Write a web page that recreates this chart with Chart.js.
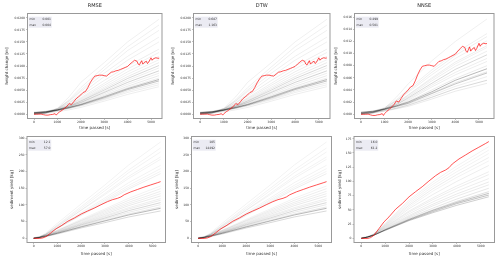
<!DOCTYPE html>
<html lang="en">
<head>
<meta charset="UTF-8">
<title>Calibration runs – height change and sediment yield</title>
<script src="https://cdn.jsdelivr.net/npm/chart.js"></script>
<style>
  body { margin: 0; background: #fff; }
  #fig { position: relative; width: 500px; height: 261px; overflow: hidden; }
  #fig canvas { position: absolute; }
</style>
</head>
<body>
<div id="fig"></div>
<script>
// observed run (red)
const obsHeightTime = [0, 100, 200, 300, 400, 500, 600, 700, 800, 900, 950, 1000, 1100, 1200, 1300, 1400, 1500, 1600, 1700, 1800, 1900, 2000,
  2100, 2200, 2300, 2400, 2500, 2600, 2700, 2800, 2900, 3000, 3100, 3200, 3300, 3400, 3500, 3600, 3700, 3800, 3900, 4000,
  4100, 4200, 4300, 4400, 4450, 4500, 4600, 4650, 4700, 4800, 4850, 4900, 5000, 5050, 5100, 5200, 5300, 5340];
const obsHeight = [0, 0, 0, 0.00002, -0.0001, -0.0002, -0.0002, -0.0001, -0.00005, 0.0001, -0.0002, 0.0001, 0.0005, 0.0008, 0.0012, 0.0016, 0.0022, 0.0020, 0.0026, 0.0032, 0.0036, 0.0040,
  0.0045, 0.0047, 0.0055, 0.0065, 0.0073, 0.0079, 0.0080, 0.0081, 0.0081, 0.0080, 0.0079, 0.0083, 0.0087, 0.0088, 0.0090, 0.0091, 0.0093, 0.0095, 0.0097, 0.0099,
  0.0104, 0.0108, 0.0112, 0.0110, 0.0104, 0.0102, 0.0111, 0.0104, 0.0107, 0.0110, 0.0105, 0.0108, 0.0117, 0.0112, 0.0115, 0.0117, 0.0116, 0.0117];
const obsYieldTime = [0, 250, 390, 530, 740, 950, 1160, 1440, 1720, 2000, 2270, 2550, 2830, 3110, 3320, 3530, 3670, 3810, 4090, 4370, 4640, 4920, 5200, 5340];
const obsYield = [0, -0.5, 1.2, 5.3, 17, 28.8, 37.6, 51.2, 61.2, 72.9, 81.8, 90.6, 100.6, 110, 115.9, 120, 124, 130.6, 139.4, 146.5, 153.5, 160, 166.5, 170];

// simulated runs (grey)
const runHeightTime = [0, 500, 1000, 1500, 2000, 3000, 4000, 5340];
const rmseHeightRuns = [
  [0, 0.0002, 0.0012, 0.0036, 0.0066, 0.0107, 0.0150, 0.0197],
  [0.0001, 0.0003, 0.0011, 0.0030, 0.0055, 0.0098, 0.0140, 0.0185],
  [0, 0.0002, 0.0010, 0.0028, 0.0050, 0.0092, 0.0132, 0.0174],
  [0.0002, 0.0004, 0.0012, 0.0027, 0.0047, 0.0085, 0.0120, 0.0160],
  [0, 0.0003, 0.0010, 0.0024, 0.0042, 0.0078, 0.0112, 0.0150],
  [0.0003, 0.0005, 0.0011, 0.0023, 0.0038, 0.0070, 0.0100, 0.0135],
  [0, 0.0002, 0.0009, 0.0020, 0.0034, 0.0064, 0.0094, 0.0128],
  [0.0001, 0.0003, 0.0009, 0.0019, 0.0032, 0.0060, 0.0088, 0.0120],
  [0.0004, 0.0006, 0.0011, 0.0019, 0.0030, 0.0056, 0.0083, 0.0113],
  [0, 0.0003, 0.0008, 0.0017, 0.0028, 0.0053, 0.0078, 0.0107],
  [0.0002, 0.0004, 0.0009, 0.0017, 0.0027, 0.0050, 0.0074, 0.0101],
  [0.0001, 0.0003, 0.0008, 0.0015, 0.0025, 0.0047, 0.0070, 0.0096],
  [0.0003, 0.0005, 0.0009, 0.0016, 0.0024, 0.0045, 0.0066, 0.0090],
  [0, 0.0002, 0.0007, 0.0014, 0.0022, 0.0042, 0.0062, 0.0085],
  [0.0002, 0.0004, 0.0008, 0.0014, 0.0021, 0.0039, 0.0058, 0.0080],
  [0.0004, 0.0006, 0.0009, 0.0014, 0.0020, 0.0037, 0.0055, 0.0075],
  [0.0003, 0.0005, 0.0009, 0.0014, 0.0020, 0.0036, 0.0053, 0.0072],
  [0.0002, 0.0004, 0.0008, 0.0013, 0.0019, 0.0034, 0.0051, 0.0069],
  [0.0001, 0.0003, 0.0007, 0.0012, 0.0018, 0.0032, 0.0048, 0.0065],
  [0.0004, 0.0005, 0.0008, 0.0012, 0.0017, 0.0030, 0.0045, 0.0061],
  [0, 0.0002, 0.0005, 0.0009, 0.0014, 0.0027, 0.0041, 0.0057]
];
const nnseHeightRuns = [
  [0, 0.0002, 0.0010, 0.0028, 0.0050, 0.0088, 0.0120, 0.0157],
  [0.0001, 0.0003, 0.0010, 0.0024, 0.0041, 0.0073, 0.0101, 0.0133],
  [0, 0.0002, 0.0009, 0.0022, 0.0038, 0.0069, 0.0097, 0.0128],
  [0.0003, 0.0005, 0.0011, 0.0022, 0.0036, 0.0065, 0.0092, 0.0121],
  [0, 0.0003, 0.0009, 0.0019, 0.0032, 0.0060, 0.0086, 0.0113],
  [0.0001, 0.0003, 0.0009, 0.0018, 0.0031, 0.0058, 0.0083, 0.0110],
  [0.0002, 0.0004, 0.0009, 0.0018, 0.0029, 0.0055, 0.0079, 0.0104],
  [0.0001, 0.0003, 0.0008, 0.0016, 0.0027, 0.0051, 0.0074, 0.0098],
  [0.0003, 0.0005, 0.0009, 0.0016, 0.0025, 0.0048, 0.0069, 0.0092],
  [0, 0.0002, 0.0007, 0.0014, 0.0023, 0.0045, 0.0065, 0.0087],
  [0.0002, 0.0004, 0.0008, 0.0014, 0.0021, 0.0040, 0.0059, 0.0080],
  [0.0003, 0.0005, 0.0009, 0.0014, 0.0020, 0.0037, 0.0056, 0.0075],
  [0.0002, 0.0004, 0.0008, 0.0013, 0.0019, 0.0035, 0.0052, 0.0070],
  [0.0002, 0.0004, 0.0008, 0.0013, 0.0018, 0.0034, 0.0050, 0.0068],
  [0.0004, 0.0005, 0.0008, 0.0012, 0.0017, 0.0031, 0.0046, 0.0062],
  [0.0001, 0.0003, 0.0006, 0.0010, 0.0015, 0.0028, 0.0042, 0.0056],
  [0, 0.0002, 0.0005, 0.0009, 0.0013, 0.0025, 0.0038, 0.0051]
];
const runYieldTime = [0, 250, 500, 1000, 2000, 3000, 4000, 5340];
const rmseYieldRuns = [
  [0, 4, 15, 45, 103, 160, 220, 289],
  [0, 3, 12, 40, 95, 150, 205, 271],
  [2, 5, 13, 38, 90, 143, 197, 259],
  [0, 3, 11, 35, 85, 135, 186, 244],
  [0, 4, 12, 36, 84, 131, 180, 237],
  [1, 4, 11, 32, 77, 121, 167, 219],
  [0, 3, 10, 31, 73, 116, 159, 209],
  [0, 3, 10, 30, 71, 112, 153, 201],
  [2, 5, 11, 30, 69, 108, 148, 194],
  [0, 3, 9, 25, 57, 88, 120, 157],
  [0, 3, 8, 23, 54, 84, 114, 149],
  [1, 4, 9, 23, 52, 80, 108, 141],
  [0, 3, 8, 21, 49, 76, 103, 134],
  [0, 3, 8, 20, 46, 72, 98, 127],
  [1, 3, 8, 19, 44, 68, 92, 119],
  [0, 3, 7, 18, 42, 65, 88, 114],
  [0, 3, 7, 17, 40, 61, 83, 107],
  [0, 2, 6, 16, 37, 58, 78, 101],
  [0, 2, 6, 15, 35, 54, 73, 94],
  [0, 2, 6, 15, 34, 52, 70, 90],
  [0, 2, 5, 13, 31, 47, 64, 82]
];
const nnseYieldRuns = [
  [0, 2, 7, 26, 67, 99, 127, 161],
  [0, 2, 7, 25, 64, 95, 122, 155],
  [0, 2, 6, 24, 61, 91, 117, 149],
  [1, 3, 7, 23, 58, 87, 112, 142],
  [0, 2, 6, 22, 55, 83, 107, 136],
  [0, 2, 6, 21, 52, 77, 100, 128],
  [0, 2, 6, 20, 48, 71, 92, 117],
  [0, 2, 6, 19, 46, 68, 88, 112],
  [1, 3, 6, 18, 43, 64, 83, 105],
  [0, 2, 6, 17, 40, 60, 78, 99],
  [0, 2, 5, 16, 38, 57, 74, 94],
  [0, 2, 5, 15, 36, 53, 69, 88],
  [0, 2, 5, 15, 34, 50, 65, 82],
  [0, 2, 5, 15, 33, 49, 63, 79],
  [0, 2, 5, 14, 32, 47, 61, 76],
  [0, 2, 5, 14, 31, 45, 58, 73]
];

// labels
const metricNames = ['RMSE', 'DTW', 'NNSE'];
const heightMin = ['0.001', '0.687', '0.499'];
const heightMax = ['0.004', '1.163', '0.501'];
const yieldMin = ['12.1', '105', '16.0'];
const yieldMax = ['57.0', '14492', '61.2'];

const timeTicks = [0, 1000, 2000, 3000, 4000, 5000];
const heightTicks = [0, 0.0025, 0.005, 0.0075, 0.01, 0.0125, 0.015, 0.0175, 0.02];
const heightTicksNnse = [0, 0.002, 0.004, 0.006, 0.008, 0.01, 0.012, 0.014, 0.016];
const yieldTicks = [0, 50, 100, 150, 200, 250, 300];
const yieldTicksNnse = [0, 25, 50, 75, 100, 125, 150, 175];

// line darkness of each grey run
const rmseHeightShade = [.09, .09, .09, .09, .09, .1, .09, .1, .09, .12, .22, .1, .25, .1, .12, .1, .4, .35, .12, .1, .1];
const nnseHeightShade = [.09, .09, .1, .09, .1, .09, .1, .22, .1, .1, .12, .4, .14, .32, .1, .22, .12];
const rmseYieldShade = [.08, .08, .08, .08, .08, .08, .08, .08, .1, .08, .1, .1, .1, .12, .1, .12, .22, .12, .14, .4, .22];
const nnseYieldShade = [.08, .08, .08, .1, .08, .1, .1, .1, .1, .12, .12, .14, .18, .35, .35, .28];

const FONT = 'DejaVu Sans';
const INK = '#333';
const SPINE = '#999';

const fmt4 = v => v.toFixed(4), fmt3 = v => v.toFixed(3), fmt0 = v => String(v);

const panels = [
  {box: [27.5, 13.5, 162, 118.5], x: [-278, 5470], y: [-0.0009, 0.0209], yt: heightTicks, fmt: fmt4, ytitle: 'height change [m]', gap: 20.8,
   runs: rmseHeightRuns, shade: rmseHeightShade, runT: runHeightTime, obsT: obsHeightTime, obs: obsHeight, min: heightMin[0], max: heightMax[0], title: metricNames[0]},
  {box: [193.5, 13.5, 330, 118.5], x: [-278, 5470], y: [-0.0009, 0.0209], yt: heightTicks, fmt: fmt4, ytitle: 'height change [m]', gap: 21,
   runs: rmseHeightRuns, shade: rmseHeightShade, runT: runHeightTime, obsT: obsHeightTime, obs: obsHeight, min: heightMin[1], max: heightMax[1], title: metricNames[1]},
  {box: [354.5, 13.5, 494, 118.5], x: [-275, 5636], y: [-0.0007, 0.0166], yt: heightTicksNnse, fmt: fmt3, ytitle: 'height change [m]', gap: 18.5,
   runs: nnseHeightRuns, shade: nnseHeightShade, runT: runHeightTime, obsT: obsHeightTime, obs: obsHeight, min: heightMin[2], max: heightMax[2], title: metricNames[2]},
  {box: [27, 136.5, 165.5, 242.5], x: [-277, 5546], y: [-12.6, 305.4], yt: yieldTicks, fmt: fmt0, ytitle: 'sediment yield [kg]', gap: 14.8,
   runs: rmseYieldRuns, shade: rmseYieldShade, runT: runYieldTime, obsT: obsYieldTime, obs: obsYield, min: yieldMin[0], max: yieldMax[0]},
  {box: [191.5, 136.5, 331.5, 242.5], x: [-277, 5546], y: [-12.6, 305.4], yt: yieldTicks, fmt: fmt0, ytitle: 'sediment yield [kg]', gap: 14.2,
   runs: rmseYieldRuns, shade: rmseYieldShade, runT: runYieldTime, obsT: obsYieldTime, obs: obsYield, min: yieldMin[1], max: yieldMax[1]},
  {box: [354, 136.5, 494.5, 242.5], x: [-305, 5577], y: [-7.4, 178.9], yt: yieldTicksNnse, fmt: fmt0, ytitle: 'sediment yield [kg]', gap: 14,
   runs: nnseYieldRuns, shade: nnseYieldShade, runT: runYieldTime, obsT: obsYieldTime, obs: obsYield, min: yieldMin[2], max: yieldMax[2]}
];

// axes frame + min/max table
const frame = {
  id: 'frame',
  afterDatasetsDraw(chart, args, opts) {
    const {ctx, chartArea: a} = chart;
    ctx.save();
    ctx.fillStyle = 'rgba(234,234,242,0.95)';
    ctx.fillRect(a.left + 1.2, a.top + 3.2, 23, 11);
    ctx.fillStyle = INK;
    ctx.font = '3px "' + FONT + '"';
    ctx.textBaseline = 'middle';
    ctx.textAlign = 'left';
    ctx.fillText('min', a.left + 2, a.top + 6);
    ctx.fillText('max', a.left + 2, a.top + 11.5);
    ctx.textAlign = 'right';
    ctx.fillText(opts.min, a.left + 23.5, a.top + 6);
    ctx.fillText(opts.max, a.left + 23.5, a.top + 11.5);
    ctx.strokeStyle = SPINE;
    ctx.lineWidth = 1;
    ctx.strokeRect(a.left, a.top, a.right - a.left, a.bottom - a.top);
    ctx.restore();
  }
};

const fig = document.getElementById('fig');

panels.forEach(p => {
  const [l, t, r, b] = p.box;
  const top = t < 100;
  const cx = Math.floor(l - 24), cy = top ? 0 : 128, h = 133;
  const w = Math.ceil(r - cx) + 3;
  const yw = l - cx, band = t - cy, xBand = h - (b - cy);

  const cv = document.createElement('canvas');
  cv.width = w; cv.height = h;
  cv.style.left = cx + 'px'; cv.style.top = cy + 'px';
  fig.appendChild(cv);

  const grey = p.runs.map((run, i) => ({
    data: run.map((y, k) => ({x: p.runT[k], y})),
    borderColor: 'rgba(0,0,0,' + p.shade[i] + ')',
    borderWidth: 0.7,
    pointRadius: 0,
    order: 1
  }));
  const red = {
    data: p.obsT.map((x, k) => ({x, y: p.obs[k]})),
    borderColor: 'rgba(255,0,0,0.75)',
    borderWidth: 0.9,
    pointRadius: 0,
    order: 0
  };

  new Chart(cv, {
    type: 'line',
    data: {datasets: [red, ...grey]},
    plugins: [frame],
    options: {
      responsive: false,
      devicePixelRatio: 1,
      animation: false,
      events: [],
      layout: {padding: {top: top ? 0 : band, right: w - (r - cx), left: 0, bottom: 0}},
      plugins: {
        legend: {display: false},
        tooltip: {enabled: false},
        title: {
          display: top,
          text: p.title || '',
          fullSize: false,
          color: '#222',
          font: {family: FONT, size: 5, weight: 'normal', lineHeight: 1},
          padding: {top: 3.5, bottom: band - 8.5}
        },
        frame: {min: p.min, max: p.max}
      },
      scales: {
        x: {
          type: 'linear',
          min: p.x[0], max: p.x[1],
          afterBuildTicks: s => { s.ticks = timeTicks.map(v => ({value: v})); },
          afterFit: s => { s.height = xBand; },
          ticks: {font: {family: FONT, size: 3}, color: INK, padding: 0.5, maxRotation: 0, autoSkip: false, callback: v => String(v)},
          grid: {drawOnChartArea: false, tickLength: 1.5, color: SPINE, tickWidth: 0.6},
          border: {display: false},
          title: {display: true, text: 'time passed [s]', color: INK, font: {family: FONT, size: 4, lineHeight: 1},
                  padding: {top: 0, bottom: top ? 3 : 5}}
        },
        y: {
          type: 'linear',
          min: p.y[0], max: p.y[1],
          afterBuildTicks: s => { s.ticks = p.yt.map(v => ({value: v})); },
          afterFit: s => { s.width = yw; },
          ticks: {font: {family: FONT, size: 3}, color: INK, padding: 1, autoSkip: false, callback: v => p.fmt(v)},
          grid: {drawOnChartArea: false, tickLength: 1.5, color: SPINE, tickWidth: 0.6},
          border: {display: false},
          title: {display: true, text: p.ytitle, color: INK, font: {family: FONT, size: 4, lineHeight: 1},
                  padding: {top: yw - p.gap - 2, bottom: 0}}
        }
      }
    }
  });
});
</script>
</body>
</html>
